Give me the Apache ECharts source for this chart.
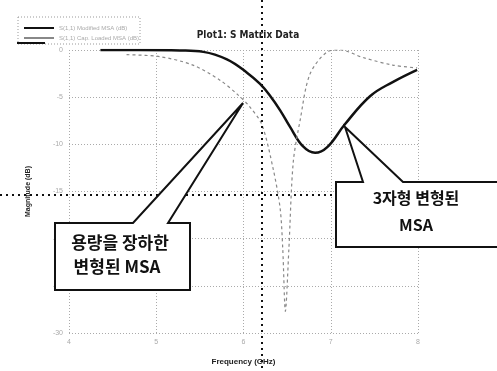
<!DOCTYPE html>
<html>
<head>
<meta charset="utf-8">
<script src="https://cdn.jsdelivr.net/npm/echarts@6/dist/echarts.min.js"></script>
<style>
  html, body { margin: 0; padding: 0; background: #fff; }
  #main { width: 497px; height: 371px; }
</style>
</head>
<body>
<div id="main"></div>
<script>
// 3자형 변형 MSA (solid)
var freq1 = [4.36, 4.81, 5.27, 5.54, 5.81, 6.04, 6.19, 6.30, 6.42, 6.53, 6.68, 6.82, 6.96, 7.16, 7.45, 7.71, 7.99];
var mag1 = [0, 0, -0.05, -0.2, -1.0, -2.4, -3.6, -4.8, -6.4, -8.1, -10.2, -10.9, -10.3, -7.9, -4.9, -3.4, -2.1];
// 용량성 장하 변형 MSA (dashed)
var freq2 = [4.66, 5.04, 5.42, 5.73, 5.93, 6.07, 6.21, 6.34, 6.42, 6.45, 6.48, 6.52, 6.57, 6.65, 6.76, 6.96, 7.11, 7.37, 7.71, 7.99];
var mag2 = [-0.5, -0.7, -1.6, -3.2, -4.7, -6.0, -7.9, -12.6, -16.8, -21.1, -27.7, -21.1, -11.9, -7.4, -2.6, -0.2, 0, -0.8, -1.6, -1.9];
var seriesNames = ['S(1,1) Modified MSA (dB)', 'S(1,1) Cap. Loaded MSA (dB)'];

var myChart = echarts.init(document.getElementById('main'));

function pairs(xs, ys) {
    return xs.map(function (x, i) { return [x, ys[i]]; });
}

var box1 = [[55, 223], [133, 223], [243, 103], [168, 223], [190, 223], [190, 290], [55, 290]];
var box2 = [[336, 182], [363, 182], [345, 127], [403, 182], [505, 182], [505, 247], [336, 247]];
var calloutFont = { fontSize: 17, fontWeight: 'bold', fill: '#111', align: 'center', verticalAlign: 'middle', fontFamily: 'Noto Sans CJK KR' };

option = {
    backgroundColor: '#fff',
    animation: false,
    title: {
        text: 'Plot1: S Matrix Data',
        left: 243, top: 25, textAlign: 'center',
        textStyle: { fontSize: 10, fontWeight: 'bold', color: '#222', fontFamily: 'DejaVu Sans Condensed' }
    },
    legend: {
        left: 19, top: 20, orient: 'vertical', itemGap: 4,
        itemWidth: 30, itemHeight: 2, icon: 'rect',
        textStyle: { fontSize: 6, color: '#aaa' },
        data: seriesNames
    },
    grid: { left: 69, right: 79, top: 50, bottom: 36 },
    xAxis: {
        type: 'value', min: 4, max: 8, interval: 1,
        name: 'Frequency (GHz)', nameLocation: 'middle', nameGap: 25,
        nameTextStyle: { fontSize: 8, fontWeight: 'bold', color: '#222' },
        axisLine: { show: false },
        axisTick: { show: false },
        axisLabel: { fontSize: 7, color: '#aaa', margin: 6 },
        splitLine: { lineStyle: { type: [1, 2], color: '#aaa', width: 1 } }
    },
    yAxis: {
        type: 'value', min: -30, max: 0, interval: 5,
        name: 'Magnitude (dB)', nameLocation: 'middle', nameGap: 37,
        nameTextStyle: { fontSize: 7, fontWeight: 'bold', color: '#222' },
        axisLine: { show: false },
        axisTick: { show: false },
        axisLabel: { fontSize: 7, color: '#aaa', margin: 6 },
        splitLine: { lineStyle: { type: [1, 2], color: '#aaa', width: 1 } }
    },
    series: [
        {
            name: seriesNames[0], type: 'line', smooth: 0.4, symbol: 'none',
            lineStyle: { color: '#111', width: 2.5 },
            itemStyle: { color: '#111' },
            data: pairs(freq1, mag1)
        },
        {
            name: seriesNames[1], type: 'line', smooth: 0.3, symbol: 'none',
            lineStyle: { color: '#888', width: 1.2, type: [3, 3] },
            itemStyle: { color: '#888' },
            data: pairs(freq2, mag2)
        }
    ],
    graphic: [
        { type: 'rect', shape: { x: 18, y: 17, width: 122, height: 27 }, style: { fill: 'none', stroke: '#999', lineWidth: 1, lineDash: [1, 2] } },
        { type: 'line', shape: { x1: 17, y1: 43, x2: 45, y2: 43 }, style: { stroke: '#111', lineWidth: 2 } },
        { type: 'line', shape: { x1: 262, y1: 0, x2: 262, y2: 371 }, style: { stroke: '#111', lineWidth: 2, lineDash: [2, 4] }, z: 10 },
        { type: 'line', shape: { x1: 0, y1: 195, x2: 497, y2: 195 }, style: { stroke: '#111', lineWidth: 2, lineDash: [2, 4] }, z: 10 },
        { type: 'polygon', shape: { points: box1 }, style: { fill: '#fff', stroke: '#111', lineWidth: 2 }, z: 20 },
        { type: 'polygon', shape: { points: box2 }, style: { fill: '#fff', stroke: '#111', lineWidth: 2 }, z: 20 },
        { type: 'text', x: 120, y: 243, z: 21, style: Object.assign({ text: '용량을 장하한' }, calloutFont) },
        { type: 'text', x: 117, y: 267, z: 21, style: Object.assign({ text: '변형된 MSA' }, calloutFont) },
        { type: 'text', x: 416, y: 198, z: 21, style: Object.assign({ text: '3자형 변형된' }, calloutFont, { fontSize: 16 }) },
        { type: 'text', x: 416, y: 225, z: 21, style: Object.assign({ text: 'MSA' }, calloutFont, { fontSize: 16 }) }
    ]
};

myChart.setOption(option);
</script>
</body>
</html>
